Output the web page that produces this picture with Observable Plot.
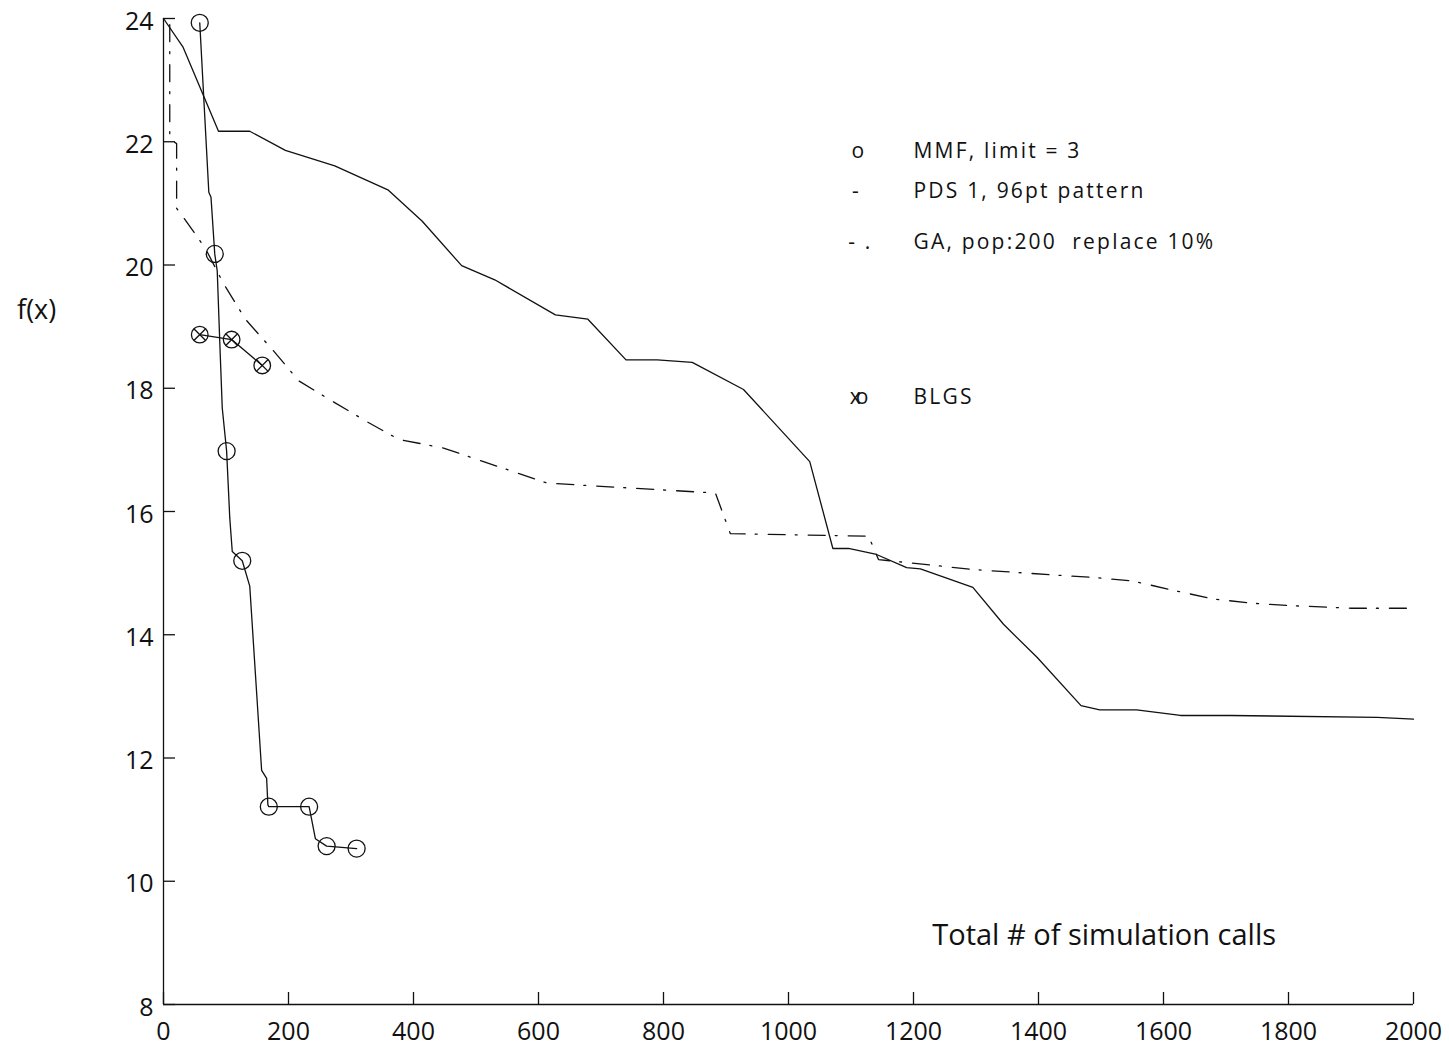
<!DOCTYPE html>
<html><head><meta charset="utf-8">
<script src="https://cdn.jsdelivr.net/npm/d3@7"></script>
<script src="https://cdn.jsdelivr.net/npm/@observablehq/plot@0.6"></script>
<style>
body{margin:0;background:#fff;}
.legend text{letter-spacing:2.2px;}
.overlap text{letter-spacing:-5px;}
</style>
</head><body><div id="chart"></div>
<script>
// PDS 1, 96pt pattern (solid)
const pdsX = [0, 31, 88, 138, 195, 274, 359, 414, 477, 530, 627, 679, 740, 790, 846, 928, 1034, 1071, 1096, 1139, 1189, 1211, 1295, 1344, 1398, 1468, 1498, 1557, 1627, 1707, 1942, 2000];
const pdsY = [24, 23.54, 22.17, 22.17, 21.86, 21.61, 21.22, 20.71, 19.99, 19.76, 19.19, 19.12, 18.46, 18.46, 18.42, 17.98, 16.81, 15.40, 15.40, 15.31, 15.09, 15.07, 14.77, 14.17, 13.63, 12.85, 12.78, 12.78, 12.69, 12.69, 12.66, 12.63];
// GA, pop:200 replace 10% (dash-dot)
const gaX = [10, 10, 21, 21, 30, 67, 96.5, 131, 174, 216.5, 270, 328.5, 376.5, 448, 614, 883, 907, 1128, 1144, 1294, 1424, 1488, 1552, 1616, 1680, 1744, 1808, 1900, 2000];
const gaY = [23.9, 22.05, 21.97, 20.92, 20.80, 20.27, 19.69, 19.12, 18.63, 18.12, 17.79, 17.44, 17.17, 17.03, 16.46, 16.30, 15.64, 15.60, 15.22, 15.06, 14.97, 14.93, 14.87, 14.72, 14.58, 14.51, 14.47, 14.43, 14.43];
// MMF, limit = 3 (line + circles)
const mmfX = [58, 72.5, 76, 82, 86, 90, 94, 101, 106, 110, 126, 138, 157, 165, 167, 168.5, 233, 243, 261, 309];
const mmfY = [23.93, 21.18, 21.10, 20.18, 19.9, 18.76, 17.68, 16.98, 15.9, 15.35, 15.20, 14.79, 11.80, 11.67, 11.24, 11.21, 11.21, 10.69, 10.57, 10.53];
const mmfMarkX = [58, 82, 101, 126, 168.5, 233, 261, 309];
const mmfMarkY = [23.93, 20.18, 16.98, 15.20, 11.21, 11.21, 10.57, 10.53];
// BLGS (circled x)
const blgsX = [58, 109, 158];
const blgsY = [18.87, 18.79, 18.37];
// ticks
const xTicks = [0, 200, 400, 600, 800, 1000, 1200, 1400, 1600, 1800, 2000];
const yTicks = [8, 10, 12, 14, 16, 18, 20, 22, 24];
// texts
const legendLabels = ["MMF, limit = 3", "PDS 1, 96pt pattern", "GA, pop:200\u00A0\u00A0replace 10%", "BLGS"];
const legendSymbols = ["o", "-", "- .", "xo"];
const xTitle = "Total # of simulation calls";
const yTitle = "f(x)";

const pts = (xs, ys) => xs.map((x, i) => ({x, y: ys[i]}));
const pds = pts(pdsX, pdsY), ga = pts(gaX, gaY), mmf = pts(mmfX, mmfY), mmfM = pts(mmfMarkX, mmfMarkY), blgs = pts(blgsX, blgsY);

const ink = "#111";
const sw = 1.3;
const legX = 1111, legTextX = 1200;
const legY = [21.84, 21.19, 20.37, 17.85];
const fmt = d => String(d);

const chart = Plot.plot({
  width: 1449, height: 1048,
  marginLeft: 163, marginRight: 36, marginTop: 18, marginBottom: 44,
  style: {fontFamily: "'Open Sans', sans-serif", fontSize: "25px", color: ink, background: "#fff"},
  x: {domain: [0, 2000]},
  y: {domain: [8, 24]},
  marks: [
    Plot.ruleY([8], {stroke: ink, strokeWidth: sw}),
    Plot.ruleX([0], {stroke: ink, strokeWidth: sw}),
    Plot.axisX(xTicks, {anchor: "bottom", tickSize: -12, tickFormat: () => "", label: null, strokeWidth: sw}),
    Plot.axisX(xTicks, {anchor: "bottom", tickSize: 0, tickPadding: 18, tickFormat: fmt, label: null, fontSize: 25}),
    Plot.axisY(yTicks, {anchor: "left", tickSize: -12, tickFormat: () => "", label: null, strokeWidth: sw}),
    Plot.axisY(yTicks, {anchor: "left", tickSize: 0, tickPadding: 10, tickFormat: fmt, label: null, fontSize: 25, dy: 3}),
    Plot.line(pds, {x: "x", y: "y", stroke: ink, strokeWidth: sw}),
    Plot.line(ga, {x: "x", y: "y", stroke: ink, strokeWidth: sw, strokeDasharray: "17,10,2,11"}),
    Plot.line(mmf, {x: "x", y: "y", stroke: ink, strokeWidth: sw}),
    Plot.dot(mmfM, {x: "x", y: "y", r: 8.5, stroke: ink, strokeWidth: sw, fill: "none"}),
    Plot.line(blgs, {x: "x", y: "y", stroke: ink, strokeWidth: sw}),
    Plot.dot(blgs, {x: "x", y: "y", r: 8.3, stroke: ink, strokeWidth: sw, fill: "none"}),
    Plot.dot(blgs, {x: "x", y: "y", r: 5.2, symbol: "times", stroke: ink, strokeWidth: sw}),
    // legend
    Plot.text(legendLabels, {x: legTextX, y: (d, i) => legY[i], text: d => d, textAnchor: "start", fontSize: 21, fill: ink, className: "legend"}),
    Plot.text([legendSymbols[0]], {x: legX, y: legY[0], text: d => d, fontSize: 21, fill: ink}),
    Plot.text([legendSymbols[1]], {x: legX - 4, y: legY[1], text: d => d, fontSize: 21, fill: ink}),
    Plot.text([legendSymbols[2]], {x: legX + 4, y: legY[2], text: d => d, fontSize: 21, fill: ink, className: "legend"}),
    Plot.text([legendSymbols[3]], {x: legX - 2, y: legY[3], text: d => d, fontSize: 21, fill: ink, className: "overlap"}),
    // titles
    Plot.text([xTitle], {x: 1230, y: 8.97, text: d => d, textAnchor: "start", lineAnchor: "bottom", fontSize: 29, fill: ink}),
    Plot.text([yTitle], {x: -203, y: 19.27, text: d => d, fontSize: 27, fill: ink})
  ]
});
document.getElementById("chart").appendChild(chart);
</script>
</body></html>
